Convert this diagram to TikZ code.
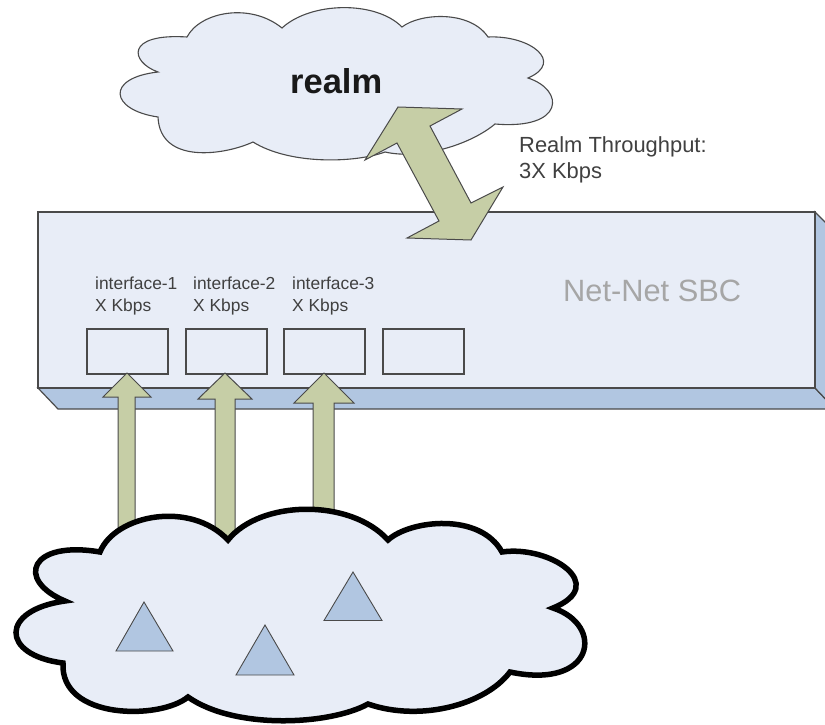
\documentclass[tikz,border=0pt]{standalone}
\usepackage{fontspec}
\setmainfont{Liberation Sans}
\definecolor{pale}{HTML}{E8EDF7}
\definecolor{steel}{HTML}{B1C6E1}
\definecolor{olive}{HTML}{C6CEA6}
\definecolor{edge}{HTML}{4A4A4A}
\tikzset{
  cloudthin/.style={draw=edge,line width=1.1pt,fill=pale,line join=miter},
  cloudthick/.style={draw=black,line width=5.5pt,fill=pale,line join=miter},
  blockarrow/.style={draw=edge,line width=1pt,fill=olive,line join=miter},
  tri/.style={draw=edge,line width=0.9pt,fill=steel,line join=miter},
  front/.style={draw=edge,line width=1.6pt,fill=pale,line join=miter},
  rim/.style={draw=edge,line width=1.2pt,fill=steel,line join=miter},
  portbox/.style={draw=edge,line width=1.5pt,fill=pale,inner sep=0pt,minimum width=81pt,minimum height=45pt},
  lbl/.style={inner sep=0pt,anchor=base west,text=black!75,font=\fontsize{17.4}{20}\selectfont},
  lblb/.style={inner sep=0pt,anchor=base west,text=black!75,font=\fontsize{21.9}{24}\selectfont}
}
\begin{document}
\begin{tikzpicture}[x=1pt,y=-1pt]
\useasboundingbox (0,0) rectangle (825,725);
\clip (0,0) rectangle (825,725);
% top cloud
\draw[cloudthin] (187,37)
  .. controls (200,12) and (250,2) .. (282,28)
  .. controls (310,2) and (375,0) .. (402,27)
  .. controls (420,13) and (470,10) .. (488,37)
  .. controls (530,35) and (565,62) .. (528,78)
  .. controls (565,90) and (565,130) .. (495,124)
  .. controls (470,145) and (420,160) .. (385,152)
  .. controls (355,163) and (290,165) .. (253,142)
  .. controls (225,155) and (160,165) .. (158,117)
  .. controls (110,110) and (105,78) .. (158,72)
  .. controls (130,62) and (125,33) .. (187,37) -- cycle;
\node[inner sep=0pt,anchor=base west,font=\bfseries\fontsize{34.5}{37}\selectfont,text=black!90] (realm) at (290,93) {realm};
% SBC chassis
\draw[rim] (38,388) -- (58,409) -- (845,409) -- (835,409) -- (815,388) -- cycle;
\draw[rim] (815,212) -- (835,232) -- (835,409) -- (815,388) -- cycle;
\draw[front] (38,212) rectangle (815,388);
\node[portbox,anchor=north west] (p1) at (86,328) {};
\node[portbox,anchor=north west] (p2) at (185,328) {};
\node[portbox,anchor=north west] (p3) at (283,328) {};
\node[portbox,anchor=north west] (p4) at (382,328) {};
\node[lbl] (i1a) at (95,289) {interface-1};
\node[lbl] (i1b) at (95,311) {X Kbps};
\node[lbl] (i2a) at (193,289) {interface-2};
\node[lbl] (i2b) at (193,311) {X Kbps};
\node[lbl] (i3a) at (292,289) {interface-3};
\node[lbl] (i3b) at (292,311) {X Kbps};
\node[inner sep=0pt,anchor=base west,text=black!35,font=\fontsize{30.8}{34}\selectfont] (sbc) at (563,301) {Net-Net SBC};
\node[lblb] (rt1) at (519,152) {Realm Throughput:};
\node[lblb] (rt2) at (519,178) {3X Kbps};
% double arrow
\draw[blockarrow] (398,107) -- (462,109) -- (430,126) -- (471,203) -- (503,187)
  -- (471,240) -- (407,238) -- (439,221) -- (397,143) -- (365,160) -- cycle;
% up arrows
\draw[blockarrow] (127,373) -- (151,397) -- (135,397) -- (135,540) -- (118,540) -- (118,397) -- (103,397) -- cycle;
\draw[blockarrow] (225,373) -- (252,399) -- (235,399) -- (235,545) -- (215,545) -- (215,399) -- (198,399) -- cycle;
\draw[blockarrow] (324,373) -- (354,403) -- (334,403) -- (334,530) -- (313,530) -- (313,403) -- (294,403) -- cycle;
% bottom cloud
\draw[cloudthick] (100,552)
  .. controls (115,515) and (190,500) .. (228,540)
  .. controls (260,500) and (350,498) .. (388,540)
  .. controls (410,520) and (480,512) .. (502,552)
  .. controls (550,545) and (610,585) .. (553,608)
  .. controls (605,625) and (595,690) .. (510,672)
  .. controls (485,705) and (420,722) .. (368,704)
  .. controls (330,725) and (235,730) .. (188,697)
  .. controls (160,720) and (60,720) .. (63,663)
  .. controls (0,655) and (0,610) .. (65,601)
  .. controls (15,580) and (30,540) .. (100,552) -- cycle;
\draw[tri] (144,602) -- (173,651) -- (116,651) -- cycle;
\draw[tri] (265,625) -- (294,675) -- (236,675) -- cycle;
\draw[tri] (353,572) -- (382,620.5) -- (324,620.5) -- cycle;
\end{tikzpicture}
\end{document}
